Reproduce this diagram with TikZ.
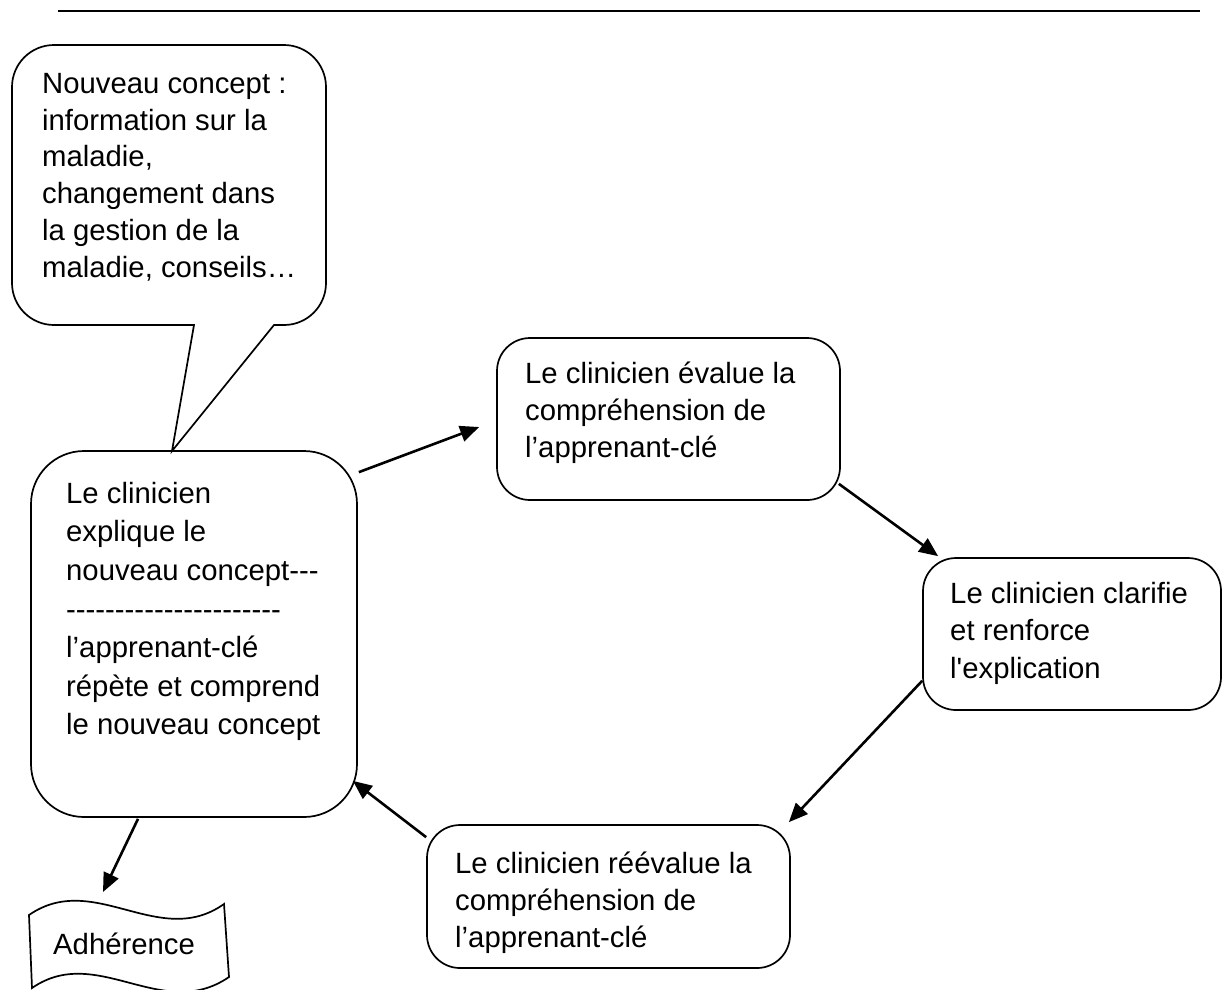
\documentclass[tikz,border=0pt]{standalone}
\usepackage{fontspec}
\newfontfamily\arialf{Liberation Sans}
\usetikzlibrary{arrows.meta,calc}
\tikzset{
  box/.style={draw, line width=1.7pt, rounded corners=#1, inner sep=0pt},
  txt/.style={anchor=north west, inner sep=0pt, align=left},
  conn/.style={line width=2.6pt, -{Triangle[length=19pt,width=16pt]}},
  outline/.style={line width=1.7pt},
}
\newcommand{\fs}[1]{\arialf\fontsize{29.3}{#1}\selectfont}
\begin{document}
\begin{tikzpicture}[x=1pt,y=-1pt]
\useasboundingbox (0,0) rectangle (1225,989);

% top rule
\coordinate (ruleL) at (58,11);
\coordinate (ruleR) at (1200,11);
\draw[line width=2.4pt] (ruleL) -- (ruleR);

% callout
\draw[outline] (194,325) -- (54,325) arc[start angle=90,end angle=180,radius=42]
  -- (12,87) arc[start angle=180,end angle=270,radius=42]
  -- (284,45) arc[start angle=270,end angle=360,radius=42]
  -- (326,283) arc[start angle=0,end angle=90,radius=42]
  -- (274,325) -- (172,451) -- cycle;
\node[txt, font=\fs{36.8}] (concept) at (42,69)
  {\rule{0pt}{24pt}Nouveau concept :\\information sur la\\maladie,\\changement dans\\la gestion de la\\maladie, conseils…};

% boxes
\node[box=53, minimum width=326pt, minimum height=366pt] (main) at (194,634) {};
\node[box=33, minimum width=343pt, minimum height=162pt] (eval) at (668.5,419) {};
\node[box=33, minimum width=298pt, minimum height=152pt] (clar) at (1072,634) {};
\node[box=33, minimum width=363pt, minimum height=143pt] (reeval) at (608.5,896.5) {};

\node[txt, font=\fs{38.6}] (maintxt) at (66,479)
  {\rule{0pt}{24pt}Le clinicien\\explique le\\nouveau concept---\\----------------------\\l’apprenant-clé\\répète et comprend\\le nouveau concept};
\node[txt, font=\fs{37}] (evaltxt) at (525,359)
  {\rule{0pt}{24pt}Le clinicien évalue la\\compréhension de\\l’apprenant-clé};
\node[txt, font=\fs{37.5}] (clartxt) at (950,579)
  {\rule{0pt}{24pt}Le clinicien clarifie\\et renforce\\l'explication};
\node[txt, font=\fs{37}] (reevaltxt) at (455,849)
  {\rule{0pt}{24pt}Le clinicien réévalue la\\compréhension de\\l’apprenant-clé};

% tape
\draw[outline] (29,915) .. controls (94,870) and (159,950) .. (224,904)
  -- (229,977) .. controls (162,1023) and (97,943) .. (32,988) -- cycle;
\node[anchor=base west, inner sep=0pt, font=\fs{37}] (adh) at (53,954) {Adhérence};
\coordinate (tapetip) at (103,892);

% connectors
\draw[conn] ($(main.north east)+(1,22)$) -- ($(eval.west)+(-17,8)$);
\draw[conn] ($(eval.south east)+(-2,-17)$) -- ($(clar.north west)+(16,-1)$);
\draw[conn] ($(clar.south west)+(0,-30)$) -- ($(reeval.north east)+(-2,-2)$);
\draw[conn] ($(reeval.north west)+(0,13)$) -- ($(main.south east)+(-5,-37)$);
\draw[conn] ($(main.south)+(-56,1)$) -- (tapetip);
\end{tikzpicture}
\end{document}
